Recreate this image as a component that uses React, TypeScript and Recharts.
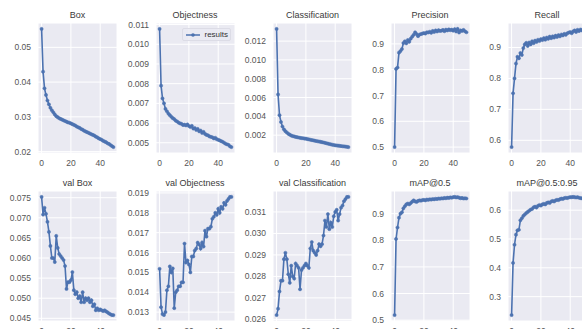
import { CartesianGrid, Line, LineChart, XAxis, YAxis } from "recharts";

const epochs = Array.from({ length: 50 }, (_, i) => i);

const box = [
  0.0553, 0.043, 0.0382, 0.0363, 0.0347, 0.0336, 0.0326, 0.0319, 0.0313, 0.0307,
  0.0302, 0.0299, 0.0296, 0.0294, 0.0292, 0.029, 0.0288, 0.0286, 0.0284, 0.0283,
  0.0281, 0.0279, 0.0277, 0.0275, 0.0272, 0.027, 0.0268, 0.0265, 0.0263, 0.026,
  0.0258, 0.0256, 0.0254, 0.0252, 0.025, 0.0248, 0.0246, 0.0243, 0.0241, 0.0238,
  0.0236, 0.0234, 0.0231, 0.0229, 0.0227, 0.0224, 0.0222, 0.0219, 0.0216, 0.0213,
];
const objectness = [
  0.01078, 0.0079, 0.00725, 0.007, 0.00672, 0.0066, 0.00648, 0.0064, 0.00632, 0.00625,
  0.0062, 0.00612, 0.00608, 0.00602, 0.00598, 0.00596, 0.0059, 0.00592, 0.00588, 0.00593,
  0.00585, 0.0058, 0.00586, 0.00572, 0.00575, 0.00565, 0.0057, 0.00558, 0.00562, 0.0055,
  0.00555, 0.00545, 0.0054, 0.00538, 0.00532, 0.0053, 0.00528, 0.00522, 0.00525, 0.00518,
  0.00515, 0.00512, 0.00508, 0.00505, 0.005, 0.00495, 0.00492, 0.0049, 0.00482, 0.00478,
];
const classification = [
  0.0133, 0.00633, 0.00412, 0.0034, 0.00292, 0.00262, 0.00242, 0.00228, 0.00214, 0.00205,
  0.00196, 0.0019, 0.00186, 0.00181, 0.00178, 0.00175, 0.00172, 0.00169, 0.00167, 0.00164,
  0.00162, 0.00158, 0.00155, 0.00151, 0.00148, 0.00145, 0.00141, 0.00138, 0.00135, 0.00132,
  0.00129, 0.00125, 0.00122, 0.00118, 0.00114, 0.0011, 0.00106, 0.00102, 0.00098, 0.00095,
  0.00092, 0.0009, 0.00088, 0.00086, 0.00084, 0.00082, 0.0008, 0.00078, 0.00076, 0.00073,
];
const precision = [
  0.5, 0.803, 0.808, 0.866, 0.872, 0.88, 0.903, 0.91, 0.902, 0.915,
  0.908, 0.92, 0.928, 0.935, 0.945, 0.938, 0.93, 0.936, 0.938, 0.94,
  0.942, 0.94, 0.945, 0.944, 0.947, 0.943, 0.95, 0.946, 0.952, 0.948,
  0.953, 0.95, 0.951, 0.954, 0.949, 0.955, 0.952, 0.956, 0.953, 0.955,
  0.951, 0.957, 0.948, 0.958, 0.944, 0.952, 0.95, 0.954, 0.949, 0.945,
];
const recall = [
  0.578, 0.752, 0.8, 0.848, 0.87, 0.865, 0.882, 0.876, 0.898, 0.91,
  0.915, 0.905, 0.916, 0.91, 0.92, 0.914, 0.922, 0.918, 0.925, 0.921,
  0.927, 0.924, 0.93, 0.925, 0.932, 0.928, 0.935, 0.93, 0.936, 0.932,
  0.938, 0.934, 0.94, 0.936, 0.942, 0.939, 0.944, 0.941, 0.946, 0.948,
  0.95, 0.946, 0.952, 0.955, 0.95, 0.957, 0.953, 0.958, 0.955, 0.96,
];
const valBox = [
  0.0752, 0.0708, 0.0725, 0.071, 0.069, 0.0665, 0.063, 0.06, 0.06, 0.059,
  0.0655, 0.0625, 0.061, 0.0605, 0.06, 0.0595, 0.058, 0.0523, 0.054, 0.054,
  0.0545, 0.0565, 0.052, 0.051, 0.0515, 0.05, 0.0505, 0.049, 0.0515, 0.049,
  0.05, 0.0495, 0.05, 0.049, 0.0495, 0.048, 0.0485, 0.047, 0.0475, 0.047,
  0.0472, 0.047, 0.0468, 0.047, 0.0467, 0.0465, 0.0462, 0.046, 0.0458, 0.0458,
];
const valObjectness = [
  0.01518, 0.01325, 0.0129, 0.01285, 0.013, 0.0141, 0.0143, 0.0153, 0.015, 0.0152,
  0.0132, 0.014, 0.0141, 0.0143, 0.0143, 0.0145, 0.0145, 0.01645, 0.0155, 0.0156,
  0.0154, 0.015, 0.0158, 0.0158, 0.0161, 0.0162, 0.0165, 0.0164, 0.0162, 0.0165,
  0.0163, 0.0171, 0.0168, 0.0172, 0.0172, 0.0173, 0.0177, 0.0178, 0.018, 0.0179,
  0.0182, 0.018, 0.0183, 0.0182, 0.0185, 0.0184, 0.0186, 0.0187, 0.0188, 0.0188,
];
const valClassification = [
  0.0262, 0.0265, 0.0273, 0.0278, 0.0278, 0.0288, 0.0291, 0.0288, 0.0281, 0.0277,
  0.0285, 0.028, 0.0279, 0.0286, 0.0285, 0.0284, 0.0274, 0.0283, 0.0284, 0.0285,
  0.0286, 0.0285, 0.0284, 0.0293, 0.0296, 0.0292, 0.0291, 0.029, 0.0292, 0.0295,
  0.0294, 0.0295, 0.0299, 0.0306, 0.0303, 0.0309, 0.0302, 0.0305, 0.0303, 0.0308,
  0.031, 0.0311, 0.0306, 0.0309, 0.0312, 0.0313, 0.0315, 0.0316, 0.0317, 0.0317,
];
const map50 = [
  0.519, 0.805, 0.848, 0.885, 0.9, 0.905, 0.92, 0.928, 0.935, 0.938,
  0.935, 0.94, 0.945, 0.95, 0.946, 0.944, 0.948, 0.95, 0.949, 0.951,
  0.952, 0.95, 0.953, 0.952, 0.954, 0.953, 0.955, 0.954, 0.956, 0.955,
  0.957, 0.956, 0.958, 0.957, 0.959, 0.958, 0.96, 0.959, 0.961, 0.96,
  0.962, 0.963, 0.961, 0.962, 0.96, 0.958, 0.959, 0.957, 0.958, 0.957,
];
const map5095 = [
  0.236, 0.417, 0.48, 0.515, 0.53, 0.532, 0.565, 0.572, 0.58, 0.585,
  0.59, 0.594, 0.598, 0.602, 0.604, 0.61, 0.612, 0.609, 0.615, 0.618,
  0.616, 0.62, 0.622, 0.62, 0.625, 0.627, 0.625, 0.63, 0.632, 0.63,
  0.634, 0.636, 0.635, 0.638, 0.64, 0.639, 0.642, 0.643, 0.642, 0.644,
  0.645, 0.645, 0.646, 0.645, 0.644, 0.645, 0.643, 0.642, 0.641, 0.64,
];

const xTicks = [0, 20, 40];
const boxTicks = [0.02, 0.03, 0.04, 0.05];
const objTicks = [0.005, 0.006, 0.007, 0.008, 0.009, 0.01, 0.011];
const clsTicks = [0.002, 0.004, 0.006, 0.008, 0.01, 0.012];
const precTicks = [0.5, 0.6, 0.7, 0.8, 0.9];
const recallTicks = [0.6, 0.7, 0.8, 0.9];
const valBoxTicks = [0.045, 0.05, 0.055, 0.06, 0.065, 0.07, 0.075];
const valObjTicks = [0.013, 0.014, 0.015, 0.016, 0.017, 0.018, 0.019];
const valClsTicks = [0.026, 0.027, 0.028, 0.029, 0.03, 0.031];
const map50Ticks = [0.5, 0.6, 0.7, 0.8, 0.9];
const map5095Ticks = [0.3, 0.4, 0.5, 0.6];

const BLUE = "#4C72B0";
const FONT = "'Liberation Sans Narrow', 'Liberation Sans', Arial, sans-serif";
const YW = 36;
const PW = 79;
const PH = 130;
const TOP_PAD = 6;

// matplotlib-style 5% autoscale margins
function pad(vals: number[]): [number, number] {
  const lo = Math.min(...vals);
  const hi = Math.max(...vals);
  const m = (hi - lo) * 0.05;
  return [lo - m, hi + m];
}

interface PanelProps {
  title: string;
  values: number[];
  ticks: number[];
  digits: number;
  left: number;
  top: number;
  legend?: boolean;
}

function Panel({ title, values, ticks, digits, left, top, legend }: PanelProps) {
  const data = epochs.map((e, i) => ({ epoch: e, value: values[i] }));
  const tickStyle = { fontSize: 8.5, fill: "#555", fontFamily: FONT };
  return (
    <>
      <div
        style={{
          position: "absolute",
          left,
          top: top - 13,
          width: PW,
          textAlign: "center",
          fontFamily: FONT,
          fontSize: 9,
          color: "#3a3a3a",
          lineHeight: "10px",
          whiteSpace: "nowrap",
        }}
      >
        {title}
      </div>
      <div style={{ position: "absolute", left: left - YW, top: top - TOP_PAD }}>
        <LineChart
          width={YW + PW}
          height={PH + 20 + TOP_PAD}
          data={data}
          margin={{ top: TOP_PAD, right: 0, bottom: 0, left: 0 }}
        >
          <CartesianGrid fill="#EAEAF2" stroke="#fff" strokeWidth={1} strokeOpacity={1} />
          <XAxis
            dataKey="epoch"
            type="number"
            domain={[-2.45, 51.45]}
            ticks={xTicks}
            interval={0}
            axisLine={false}
            tickLine={false}
            tickSize={5}
            tickMargin={2}
            height={20}
            tick={tickStyle}
            allowDataOverflow
          />
          <YAxis
            type="number"
            domain={pad(values)}
            ticks={ticks}
            interval={0}
            axisLine={false}
            tickLine={false}
            tickSize={5}
            tickMargin={2}
            width={YW}
            tick={tickStyle}
            tickFormatter={(v: number) => v.toFixed(digits)}
            allowDataOverflow
          />
          <Line
            dataKey="value"
            stroke={BLUE}
            strokeWidth={1.6}
            dot={{ r: 1.6, fill: BLUE, stroke: BLUE, strokeWidth: 0.5 }}
            isAnimationActive={false}
          />
        </LineChart>
      </div>
      {legend && (
        <div
          style={{
            position: "absolute",
            left: left + 26,
            top: top + 5,
            width: 49,
            height: 13,
            background: "rgba(234,234,242,0.8)",
            border: "1px solid #dcdce6",
            borderRadius: 2,
            display: "flex",
            alignItems: "center",
            fontFamily: FONT,
            fontSize: 8,
            color: "#333",
            boxSizing: "border-box",
          }}
        >
          <svg width={17} height={8} style={{ marginLeft: 2 }}>
            <line x1={1} y1={4} x2={15} y2={4} stroke={BLUE} strokeWidth={1.5} />
            <circle cx={8} cy={4} r={1.8} fill={BLUE} />
          </svg>
          <span style={{ marginLeft: 3 }}>results</span>
        </div>
      )}
    </>
  );
}

const COLS = [38, 155.5, 273, 390.5, 507.5];
const ROWS = [23, 191];

export default function App() {
  return (
    <div
      style={{
        position: "absolute",
        left: 0,
        top: 0,
        width: 582,
        height: 329,
        overflow: "hidden",
        background: "#fff",
      }}
    >
      <Panel title="Box" values={box} ticks={boxTicks} digits={2} left={COLS[0]} top={ROWS[0]} />
      <Panel title="Objectness" values={objectness} ticks={objTicks} digits={3} left={COLS[1]} top={ROWS[0]} legend />
      <Panel title="Classification" values={classification} ticks={clsTicks} digits={3} left={COLS[2]} top={ROWS[0]} />
      <Panel title="Precision" values={precision} ticks={precTicks} digits={1} left={COLS[3]} top={ROWS[0]} />
      <Panel title="Recall" values={recall} ticks={recallTicks} digits={1} left={COLS[4]} top={ROWS[0]} />
      <Panel title="val Box" values={valBox} ticks={valBoxTicks} digits={3} left={COLS[0]} top={ROWS[1]} />
      <Panel title="val Objectness" values={valObjectness} ticks={valObjTicks} digits={3} left={COLS[1]} top={ROWS[1]} />
      <Panel title="val Classification" values={valClassification} ticks={valClsTicks} digits={3} left={COLS[2]} top={ROWS[1]} />
      <Panel title="mAP@0.5" values={map50} ticks={map50Ticks} digits={1} left={COLS[3]} top={ROWS[1]} />
      <Panel title="mAP@0.5:0.95" values={map5095} ticks={map5095Ticks} digits={1} left={COLS[4]} top={ROWS[1]} />
    </div>
  );
}
